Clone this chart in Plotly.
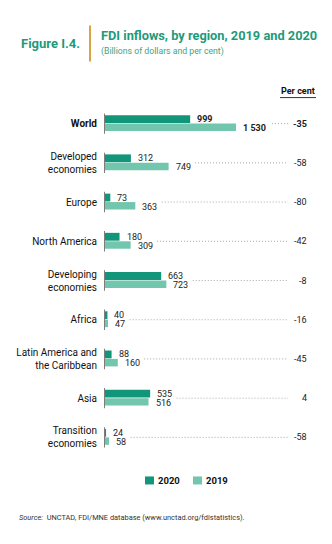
import plotly.graph_objects as go

categories = ["World", "Developed<br>economies", "Europe", "North America",
              "Developing<br>economies", "Africa", "Latin America and<br>the Caribbean",
              "Asia", "Transition<br>economies"]
fdi_2020 = [999, 312, 73, 180, 663, 40, 88, 535, 24]
fdi_2019 = [1530, 749, 363, 309, 723, 47, 160, 516, 58]
label_2020 = ["999", "312", "73", "180", "663", "40", "88", "535", "24"]
label_2019 = ["1 530", "749", "363", "309", "723", "47", "160", "516", "58"]
pct_change = ["-35", "-58", "-80", "-42", "-8", "-16", "-45", "4", "-58"]
series_names = ["2020", "2019"]

FONT = "Roboto, Liberation Sans, Arial, sans-serif"
C2020 = "#12967a"
C2019 = "#72c6ad"
GREEN = "#1e9a7b"

W, H = 332, 544
L, R, T, B = 104, 24, 104.4, 87.4
pw, ph = W - L - R, H - T - B
XMAX = 2365.0
ppu = pw / XMAX


def px_x(x):
    return (x - L) / pw


def px_y(y):
    return (H - B - y) / ph


idx = list(range(len(categories)))

fig = go.Figure()
fig.add_trace(go.Bar(name=series_names[0], x=fdi_2020, y=idx, orientation="h",
                     offset=-0.215, width=0.2, marker_color=C2020,
                     marker_line_width=0, hoverinfo="skip", showlegend=False))
fig.add_trace(go.Bar(name=series_names[1], x=fdi_2019, y=idx, orientation="h",
                     offset=0.0, width=0.19, marker_color=C2019,
                     marker_line_width=0, hoverinfo="skip", showlegend=False))

ann = []
shapes = []
VAL_SIZE = 9
for i in idx:
    bold = (i == 0)
    t20 = f"<b>{label_2020[i]}</b>" if bold else label_2020[i]
    t19 = f"<b>{label_2019[i]}</b>" if bold else label_2019[i]
    ann.append(dict(x=fdi_2020[i], y=i - 0.115, xref="x", yref="y", text=t20,
                    showarrow=False, xanchor="left", yanchor="middle", xshift=5,
                    font=dict(family=FONT, size=VAL_SIZE, color="#222")))
    ann.append(dict(x=fdi_2019[i], y=i + 0.115, xref="x", yref="y", text=t19,
                    showarrow=False, xanchor="left", yanchor="middle", xshift=5,
                    font=dict(family=FONT, size=VAL_SIZE, color="#222")))
    tp = f"<b>{pct_change[i]}</b>" if bold else pct_change[i]
    ann.append(dict(x=1, y=i, xref="paper", yref="y", text=tp,
                    showarrow=False, xanchor="right", yanchor="middle", xshift=1,
                    font=dict(family=FONT, size=VAL_SIZE, color="#222")))
    # dotted leader line
    w20 = len(label_2020[i]) * 4.8
    w19 = len(label_2019[i]) * 4.8
    x0 = max(fdi_2020[i] + (7 + w20 + 5) / ppu, fdi_2019[i] + (7 + w19 + 5) / ppu)
    x1 = (288 - L) / ppu
    shapes.append(dict(type="line", xref="x", yref="y", x0=x0, x1=x1, y0=i, y1=i,
                       line=dict(color="#a8a8a8", width=1, dash="1px,2px")))
    # axis segment
    shapes.append(dict(type="line", xref="x", yref="y", x0=0, x1=0,
                       y0=i - 0.26, y1=i + 0.26,
                       line=dict(color="#7d7d7d", width=2)))

# Titles
ann.append(dict(x=px_x(19), y=px_y(44), xref="paper", yref="paper", text="<b>Figure I.4.</b>",
                showarrow=False, xanchor="left", yanchor="middle",
                font=dict(family=FONT, size=13, color=GREEN)))
ann.append(dict(x=px_x(99), y=px_y(36), xref="paper", yref="paper",
                text="<b>FDI inflows, by region, 2019 and 2020</b>",
                showarrow=False, xanchor="left", yanchor="middle",
                font=dict(family=FONT, size=12.8, color=GREEN)))
ann.append(dict(x=px_x(99), y=px_y(52), xref="paper", yref="paper",
                text="(Billions of dollars and per cent)",
                showarrow=False, xanchor="left", yanchor="middle",
                font=dict(family=FONT, size=8.7, color="#3aa686")))
shapes.append(dict(type="line", xref="paper", yref="paper", x0=px_x(90), x1=px_x(90),
                   y0=px_y(26), y1=px_y(62), line=dict(color="#d9a443", width=2)))
# Per cent header
ann.append(dict(x=px_x(317), y=px_y(91), xref="paper", yref="paper", text="<b>Per cent</b>",
                showarrow=False, xanchor="right", yanchor="middle",
                font=dict(family=FONT, size=9, color="#111")))
shapes.append(dict(type="line", xref="paper", yref="paper", x0=px_x(280), x1=px_x(316),
                   y0=px_y(98), y1=px_y(98), line=dict(color="#333", width=1)))
# Manual legend
legend_items = [(series_names[0], C2020, 145), (series_names[1], C2019, 193)]
for name, col, lx in legend_items:
    shapes.append(dict(type="rect", xref="paper", yref="paper",
                       x0=px_x(lx), x1=px_x(lx + 9), y0=px_y(484), y1=px_y(476),
                       fillcolor=col, line=dict(width=0)))
    ann.append(dict(x=px_x(lx + 11), y=px_y(480), xref="paper", yref="paper",
                    text=f"<b>{name}</b>", showarrow=False, xanchor="left", yanchor="middle",
                    font=dict(family=FONT, size=9.5, color="#111")))
# Source
ann.append(dict(x=px_x(17), y=px_y(517), xref="paper", yref="paper",
                text="<i>Source:</i>  UNCTAD, FDI/MNE database (www.unctad.org/fdistatistics).",
                showarrow=False, xanchor="left", yanchor="middle",
                font=dict(family=FONT, size=7.4, color="#333")))

ticktext = [f"<b>{c}</b>" if i == 0 else c for i, c in enumerate(categories)]

fig.update_layout(
    width=W, height=H,
    margin=dict(l=L, r=R, t=T, b=B, pad=0, autoexpand=False),
    paper_bgcolor="white", plot_bgcolor="white",
    barmode="overlay",
    showlegend=False,
    xaxis=dict(range=[0, XMAX], visible=False, fixedrange=True, automargin=False),
    yaxis=dict(range=[8.5, -0.5], tickvals=idx, ticktext=ticktext, showgrid=False,
               zeroline=False, showline=False, ticks="", ticklabelstandoff=6,
               automargin=False,
               tickfont=dict(family=FONT, size=10, color="#111"), fixedrange=True),
    annotations=ann, shapes=shapes,
)

fig.write_html("out.html")
